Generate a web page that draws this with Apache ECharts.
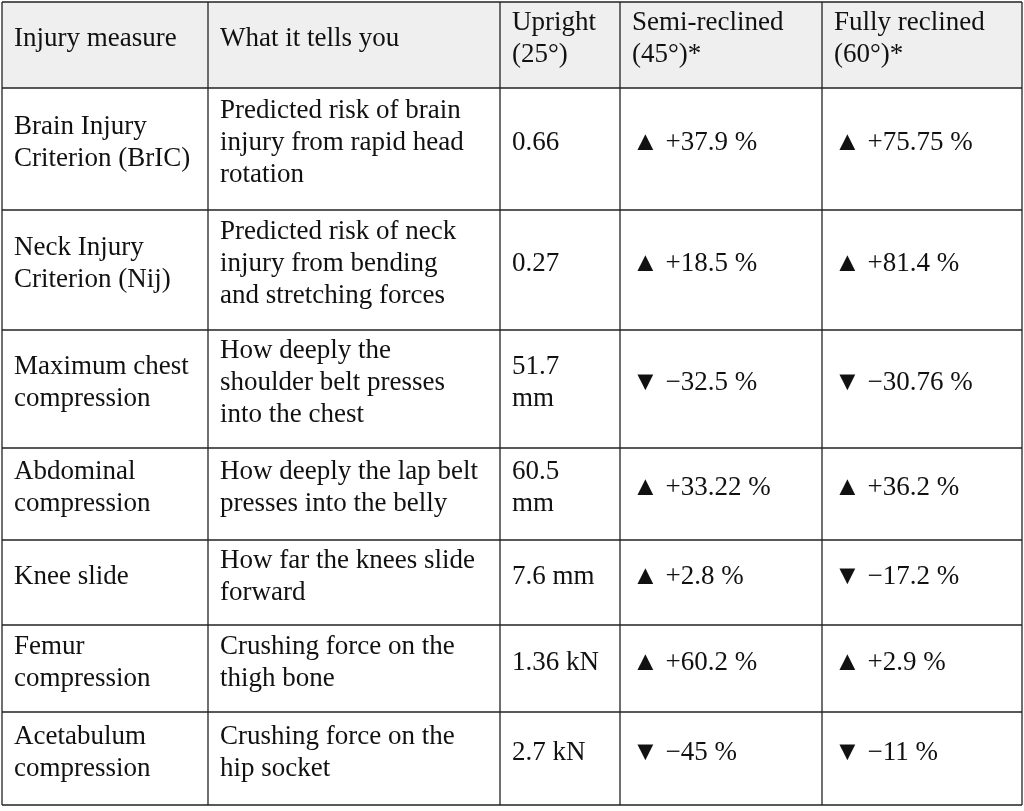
<!DOCTYPE html>
<html><head><meta charset="utf-8">
<script src="https://cdn.jsdelivr.net/npm/echarts@6/dist/echarts.min.js"></script>
<style>html,body{margin:0;padding:0;background:#fff}#c{width:1024px;height:811px}</style>
</head><body><div id="c"></div>
<script>
const headers = ["Injury measure","What it tells you","Upright\n(25°)","Semi-reclined\n(45°)*","Fully reclined\n(60°)*"];
const measures = ["Brain Injury\nCriterion (BrIC)","Neck Injury\nCriterion (Nij)","Maximum chest\ncompression","Abdominal\ncompression","Knee slide","Femur\ncompression","Acetabulum\ncompression"];
const meanings = ["Predicted risk of brain\ninjury from rapid head\nrotation","Predicted risk of neck\ninjury from bending\nand stretching forces","How deeply the\nshoulder belt presses\ninto the chest","How deeply the lap belt\npresses into the belly","How far the knees slide\nforward","Crushing force on the\nthigh bone","Crushing force on the\nhip socket"];
const upright = ["0.66","0.27","51.7\nmm","60.5\nmm","7.6 mm","1.36 kN","2.7 kN"];
const semi = ["▲ +37.9 %","▲ +18.5 %","▼ −32.5 %","▲ +33.22 %","▲ +2.8 %","▲ +60.2 %","▼ −45 %"];
const full = ["▲ +75.75 %","▲ +81.4 %","▼ −30.76 %","▲ +36.2 %","▼ −17.2 %","▲ +2.9 %","▼ −11 %"];

const colX = [2,208,500,620,822,1022];
const rowY = [2,88,210,330,448,540,625,712,805];
const font = "27px 'Liberation Serif', serif";
const g = [];
g.push({type:'rect',shape:{x:colX[0],y:rowY[0],width:colX[5]-colX[0],height:rowY[1]-rowY[0]},style:{fill:'#efefef'}});
const ln = (x1,y1,x2,y2)=>g.push({type:'line',shape:{x1,y1,x2,y2},style:{stroke:'#222',lineWidth:1.3}});
rowY.forEach(y=>ln(colX[0],y,colX[5],y));
colX.forEach(x=>ln(x,rowY[0],x,rowY[8]));
const cell=(c,r,t)=>g.push({type:'text',x:colX[c]+12,y:(rowY[r]+rowY[r+1])/2-6,style:{text:t,font:font,fill:'#111',lineHeight:32,verticalAlign:'middle',align:'left'}});
headers.forEach((h,i)=>cell(i,0,h));
for(let r=0;r<measures.length;r++){
  [measures,meanings,upright,semi,full].forEach((a,c)=>cell(c,r+1,a[r]));
}
const chart = echarts.init(document.getElementById('c'));
chart.setOption({animation:false,graphic:g});
</script></body></html>
